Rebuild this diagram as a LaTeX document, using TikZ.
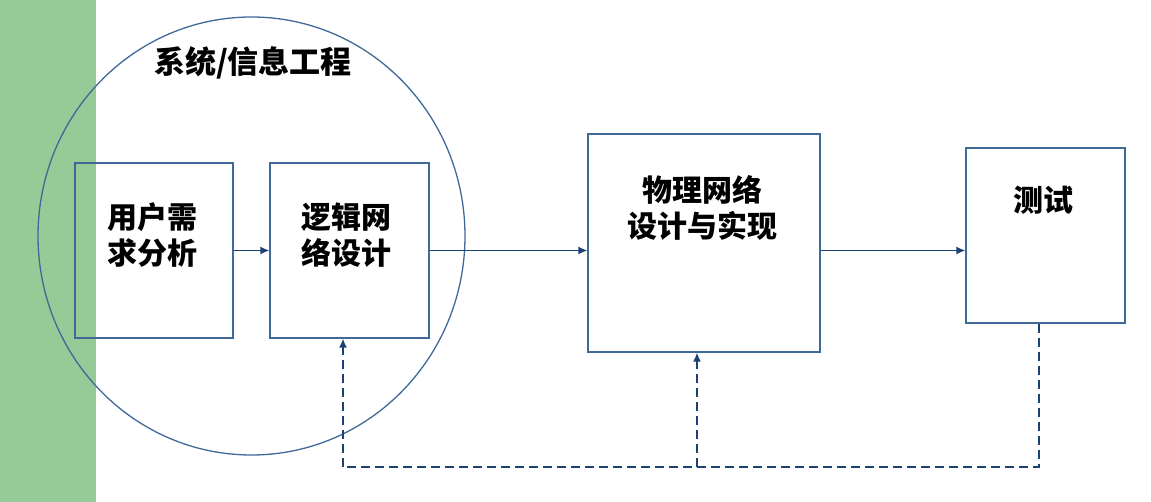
\documentclass[tikz,border=0pt]{standalone}
\usepackage{fontspec}
\newfontfamily\cjk{Noto Sans CJK SC}
\usetikzlibrary{arrows.meta,positioning}
\definecolor{stripgreen}{HTML}{96CA96}
\definecolor{boxblue}{HTML}{3F6A98}
\definecolor{linkblue}{HTML}{1C4275}
\tikzset{
  stage/.style={draw=boxblue,line width=1.3pt,inner sep=0pt},
  stagetext/.style={font=\cjk\bfseries\fontsize{30}{36}\selectfont,align=center,inner sep=0pt},
  link/.style={draw=linkblue,line width=1.5pt,-{Latex[length=9pt,width=8pt]}},
  back/.style={draw=linkblue,line width=1.5pt,dash pattern=on 9pt off 5pt}
}
\begin{document}
\begin{tikzpicture}[x=1pt,y=-1pt]
\useasboundingbox (0,0) rectangle (1151,502);
\fill[stripgreen] (0,0) rectangle (96,502);
\draw[boxblue,line width=1.3pt] (251.5,236) ellipse [x radius=213.5,y radius=219];
\node[font=\cjk\bfseries\fontsize{31}{36}\selectfont] (title) at (253,63) {系统/信息工程};
\node[stage,minimum width=158pt,minimum height=175pt] (req) at (154,250.5) {};
\node[stage,minimum width=159pt,minimum height=175pt] (logic) at (349.5,250.5) {};
\node[stage,minimum width=232pt,minimum height=218pt] (phys) at (704,243) {};
\node[stage,minimum width=159pt,minimum height=175pt] (test) at (1045.5,235.5) {};
\node[stagetext] (reqtext) at (152,235) {用户需\\求分析};
\node[stagetext] (logictext) at (346,235) {逻辑网\\络设计};
\node[stagetext] (phystext) at (702,208) {物理网络\\设计与实现};
\node[stagetext] (testtext) at (1043,200) {测试};
\coordinate (turn) at (1039,467);
\coordinate (logicin) at ([xshift=-6.5pt]logic.south);
\coordinate (physin) at ([xshift=-7pt]phys.south);
\draw[link] (req.east) -- (logic.west);
\draw[link] (logic.east) -- (logic.east -| phys.west);
\draw[link] (phys.east |- logic.east) -- (test.west |- logic.east);
\draw[back] (turn |- test.south) -- (turn) -- (turn -| logicin);
\draw[back,-{Latex[length=9pt,width=8pt]}] (turn -| logicin) -- (logicin);
\draw[back,-{Latex[length=9pt,width=8pt]}] (turn -| physin) -- (physin);
\end{tikzpicture}
\end{document}
